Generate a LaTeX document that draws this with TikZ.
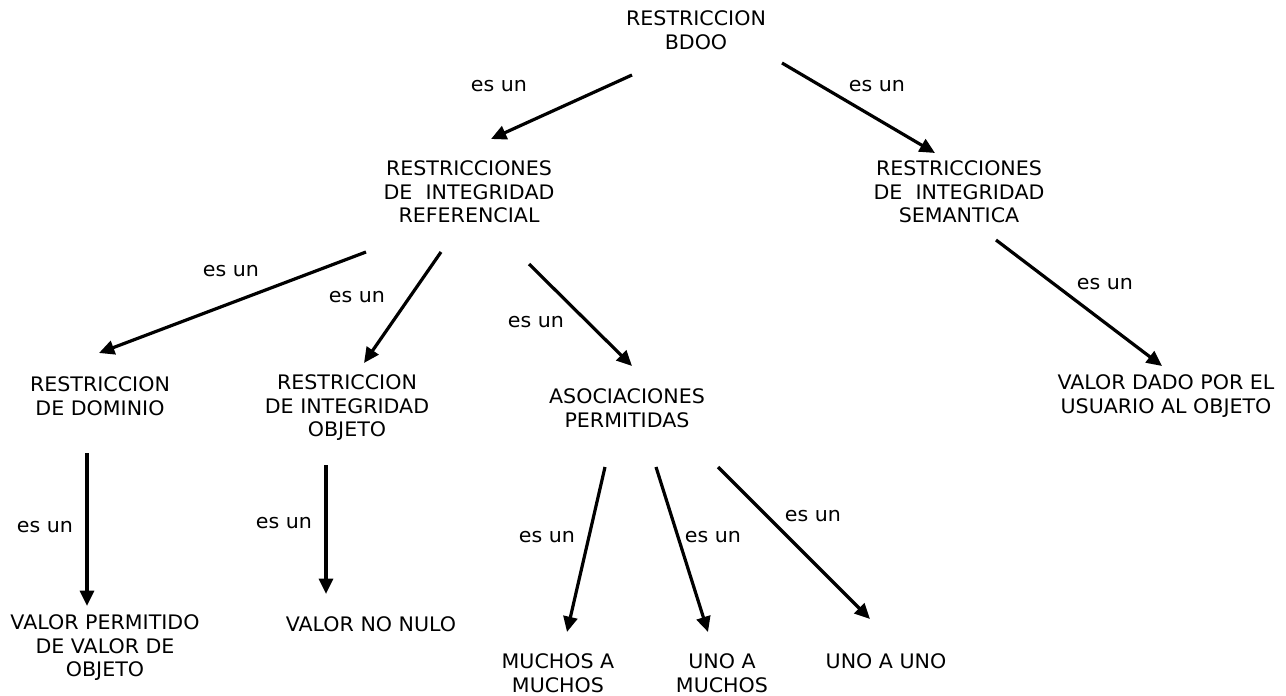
\documentclass[tikz,border=0pt]{standalone}
\usepackage{fontspec}
\setmainfont{DejaVu Sans}[FakeStretch=1.03]
\usetikzlibrary{arrows.meta}

\tikzset{
  concepto/.style={align=center, inner sep=0pt, font=\fontsize{15}{17.6}\selectfont},
  esun/.style={inner sep=0pt, font=\fontsize{15}{17.6}\selectfont},
  flecha/.style={line width=2.4pt, -{Triangle[length=11.5pt,width=10.5pt]}}
}

\begin{document}
\begin{tikzpicture}[x=0.75pt,y=-0.75pt]
		\useasboundingbox (0,0) rectangle (1286,696);
		
		% conceptos
		\node[concepto] (root) at (696,30) {RESTRICCION\\BDOO};
		\node[concepto] (rir) at (469,192) {RESTRICCIONES\\DE\ \ INTEGRIDAD\\REFERENCIAL};
		\node[concepto] (ris) at (959,192) {RESTRICCIONES\\DE\ \ INTEGRIDAD\\SEMANTICA};
		\node[concepto] (rd) at (100,396) {RESTRICCION\\DE DOMINIO};
		\node[concepto] (rio) at (347,408) {RESTRICCION\\DE INTEGRIDAD\\OBJETO};
		\node[concepto] (ap) at (627,408) {ASOCIACIONES\\PERMITIDAS};
		\node[concepto] (vdu) at (1166,396) {VALOR DADO POR EL\\USUARIO AL OBJETO};
		\node[concepto] (vp) at (105,648) {VALOR PERMITIDO\\DE VALOR DE\\OBJETO};
		\node[concepto] (vnn) at (371,624) {VALOR NO NULO};
		\node[concepto] (mam) at (558,673) {MUCHOS A\\MUCHOS};
		\node[concepto] (uam) at (722,673) {UNO A\\MUCHOS};
		\node[concepto] (uau) at (886,661) {UNO A UNO};
		
		% extremos de las flechas
		\coordinate (root-i) at (632,75);   \coordinate (rir-a) at (491,139);
		\coordinate (root-d) at (782,63);   \coordinate (ris-a) at (935,153);
		\coordinate (rir-1) at (366,252);   \coordinate (rd-a) at (99,353);
		\coordinate (rir-2) at (441,252);   \coordinate (rio-a) at (364,363);
		\coordinate (rir-3) at (529,264);   \coordinate (ap-a) at (632,366);
		\coordinate (ris-1) at (996,240);   \coordinate (vdu-a) at (1162,366);
		\coordinate (rd-1) at (87,453);     \coordinate (vp-a) at (87,606);
		\coordinate (rio-1) at (326,465);   \coordinate (vnn-a) at (326,594);
		\coordinate (ap-1) at (605,467);    \coordinate (mam-a) at (567,632);
		\coordinate (ap-2) at (656,467);    \coordinate (uam-a) at (708,632);
		\coordinate (ap-3) at (718,467);    \coordinate (uau-a) at (870,619);
		
		\draw[flecha] (root-i) -- (rir-a);
		\draw[flecha] (root-d) -- (ris-a);
		\draw[flecha] (rir-1) -- (rd-a);
		\draw[flecha] (rir-2) -- (rio-a);
		\draw[flecha] (rir-3) -- (ap-a);
		\draw[flecha] (ris-1) -- (vdu-a);
		\draw[flecha] (rd-1) -- (vp-a);
		\draw[flecha] (rio-1) -- (vnn-a);
		\draw[flecha] (ap-1) -- (mam-a);
		\draw[flecha] (ap-2) -- (uam-a);
		\draw[flecha] (ap-3) -- (uau-a);
		
		% etiquetas
		\node[esun] (e1) at (499,86) {es un};
		\node[esun] (e2) at (877,86) {es un};
		\node[esun] (e3) at (231,271) {es un};
		\node[esun] (e4) at (357,297) {es un};
		\node[esun] (e5) at (536,322) {es un};
		\node[esun] (e6) at (1105,284) {es un};
		\node[esun] (e7) at (45,527) {es un};
		\node[esun] (e8) at (284,523) {es un};
		\node[esun] (e9) at (547,537) {es un};
		\node[esun] (e10) at (713,537) {es un};
		\node[esun] (e11) at (813,516) {es un};
		
\end{tikzpicture}
\end{document}
